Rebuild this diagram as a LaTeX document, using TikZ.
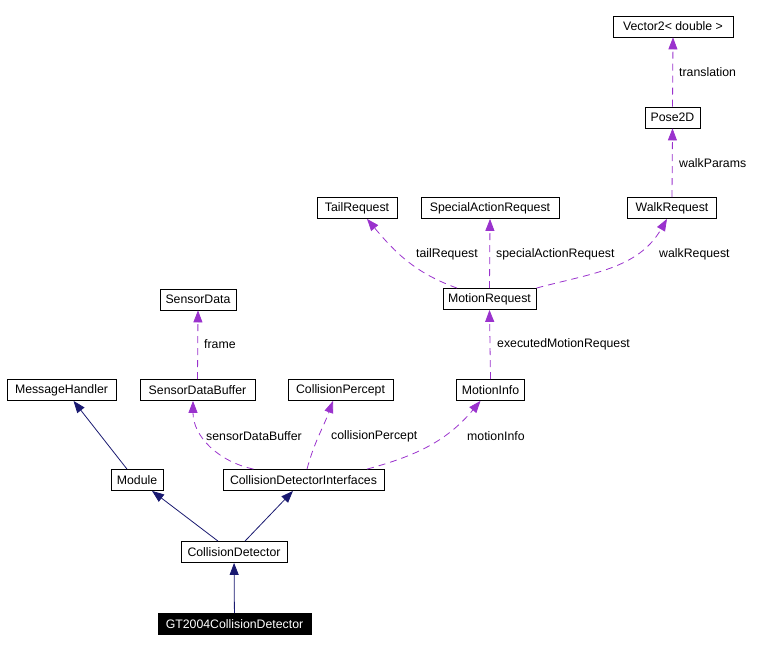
\documentclass[tikz,border=0pt]{standalone}
\usepackage{fontspec}
\setmainfont{Liberation Sans}
\usepackage{xcolor}
\usetikzlibrary{arrows.meta}
\definecolor{navyline}{HTML}{191970}
\definecolor{orchidline}{HTML}{9A32CD}

\begin{document}
\begin{tikzpicture}[x=1pt,y=-1pt,
    every node/.style={font=\fontsize{12.3}{14}\selectfont},
    cls/.style={draw,line width=0.8pt,minimum height=21pt,inner sep=0pt},
    lbl/.style={anchor=west,inner sep=0pt},
    inherit/.style={navyline,line width=0.8pt,-{Triangle[length=12pt,width=9pt]}},
    uses/.style={orchidline,line width=0.8pt,dash pattern=on 7pt off 5pt,
      -{Triangle[length=12pt,width=9pt]}}]
    \useasboundingbox (0,0) rectangle (763,652);
    % classes
    \node[cls,minimum width=120pt] (vec) at (673,26.5) {Vector2< double >};
    \node[cls,minimum width=55pt] (pose) at (672.5,117.5) {Pose2D};
    \node[cls,minimum width=80pt] (tail) at (357,208) {TailRequest};
    \node[cls,minimum width=138pt] (sar) at (490,208) {SpecialActionRequest};
    \node[cls,minimum width=89pt] (wreq) at (672,208) {WalkRequest};
    \node[cls,minimum width=76pt] (sdata) at (198,299.5) {SensorData};
    \node[cls,minimum width=93pt] (mreq) at (489.5,299) {MotionRequest};
    \node[cls,minimum width=109pt] (mh) at (61.5,390) {MessageHandler};
    \node[cls,minimum width=115pt] (sdb) at (197.5,390) {SensorDataBuffer};
    \node[cls,minimum width=105pt] (cp) at (340.5,390) {CollisionPercept};
    \node[cls,minimum width=68pt] (minfo) at (490.5,390) {MotionInfo};
    \node[cls,minimum width=52pt] (mod) at (137,480) {Module};
    \node[cls,minimum width=161pt] (cdi) at (303.5,480) {CollisionDetectorInterfaces};
    \node[cls,minimum width=106pt] (cd) at (234,552) {CollisionDetector};
    \node[cls,minimum width=153pt,fill=black,text=white] (gt) at (234.5,624) {GT2004CollisionDetector};
    % inheritance
    \draw[inherit] (gt) -- (cd);
    \draw[inherit] ([xshift=-16pt]cd.north) -- ([xshift=15pt]mod.south);
    \draw[inherit] ([xshift=11pt]cd.north) -- ([xshift=-10.5pt]cdi.south);
    \draw[inherit] ([xshift=-10pt]mod.north) -- ([xshift=12pt]mh.south);
    % members
    \foreach \a/\b in {sdb/sdata,minfo/mreq,mreq/sar,wreq/pose,pose/vec}{
      \draw[uses] (\a.north) -- (\b.south);
      }
    \draw[uses] ([xshift=-50pt]cdi.north) to[out=168,in=-90] ([xshift=-4.5pt]sdb.south);
    \draw[uses] ([xshift=3.5pt]cdi.north) to[out=75,in=-110] ([xshift=-7.5pt]cp.south);
    \draw[uses] ([xshift=63.5pt]cdi.north) to[out=15,in=-130] ([xshift=-10pt]minfo.south);
    \draw[uses] ([xshift=-32.5pt]mreq.north) to[out=160,in=-50] ([xshift=10pt]tail.south);
    \draw[uses] (mreq.north east) to[out=15,in=-120] ([xshift=-5pt]wreq.south);
    % member names
    \node[lbl] (nframe) at (204,344) {frame};
    \node[lbl] (nexec) at (497,344) {executedMotionRequest};
    \node[lbl] (nsdb) at (206,436) {sensorDataBuffer};
    \node[lbl] (ncp) at (331,436) {collisionPercept};
    \node[lbl] (nminfo) at (467,436) {motionInfo};
    \node[lbl] (ntail) at (416,254) {tailRequest};
    \node[lbl] (nsar) at (496,254) {specialActionRequest};
    \node[lbl] (nwreq) at (659,254) {walkRequest};
    \node[lbl] (nwp) at (679,163) {walkParams};
    \node[lbl] (ntrans) at (679,72) {translation};
  \end{tikzpicture}
\end{document}
